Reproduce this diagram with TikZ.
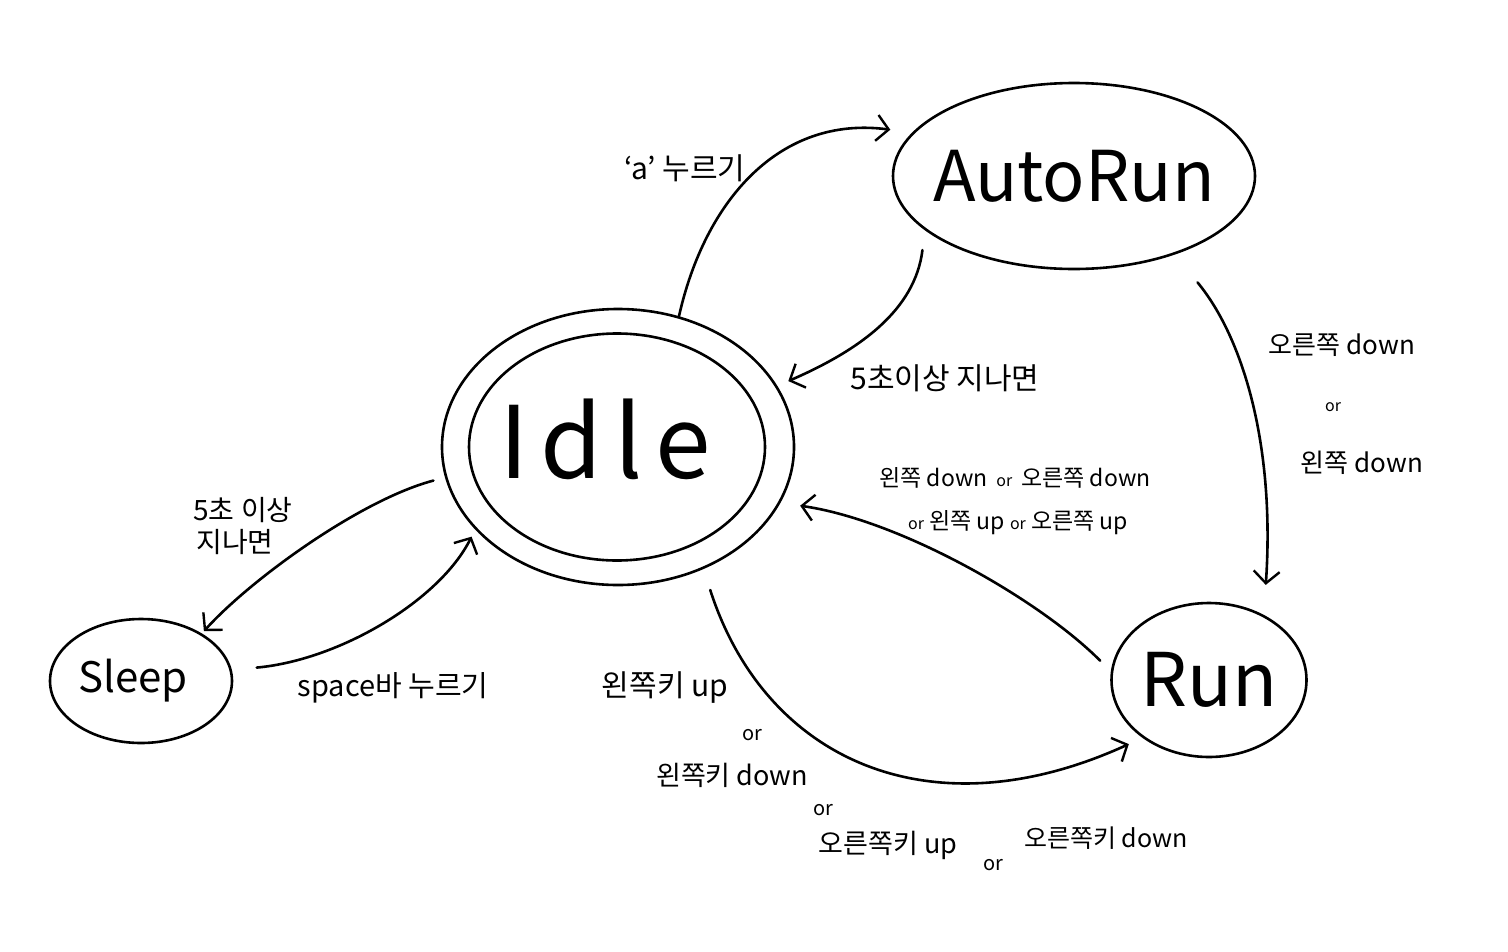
\documentclass[tikz,border=0pt]{standalone}
\usepackage{fontspec}
\setmainfont{Noto Sans CJK KR}
\usetikzlibrary{arrows.meta,shapes.geometric}
\begin{document}
\begin{tikzpicture}[x=1pt,y=-1pt,line width=2.6pt,
  st/.style={draw,ellipse,inner sep=0pt},
  edge/.style={-{Straight Barb[length=12pt,width=26pt,line width=2.4pt]},line cap=round},
  lbl/.style={inner sep=0pt,font=\fontsize{24}{28}\selectfont},
  lblor/.style={inner sep=0pt,font=\fontsize{16}{18}\selectfont}]
\useasboundingbox (0,0) rectangle (1508,951);
% states
\node[st,minimum width=362pt,minimum height=186pt,label={[font=\fontsize{70}{80}\selectfont]center:AutoRun}] (autorun) at (1074,176) {};
\node[st,minimum width=352pt,minimum height=276pt] (idle) at (618,447) {};
\node[st,minimum width=296pt,minimum height=227pt,label={[xshift=-12pt,yshift=8pt,font=\fontsize{100}{110}\selectfont\addfontfeature{LetterSpace=12}]center:Idle}] (idlein) at (617,447) {};
\node[st,minimum width=182pt,minimum height=124pt,label={[xshift=-8pt,font=\fontsize{42}{48}\selectfont]center:Sleep}] (sleep) at (141,681) {};
\node[st,minimum width=195pt,minimum height=154pt,label={[font=\fontsize{74}{84}\selectfont]center:Run}] (run) at (1209,680) {};
% connectors
\draw[edge,shorten >=22pt] (idle.65) .. controls (705,200) and (780,115) .. (autorun.165);
\draw[edge,shorten <=20pt,shorten >=12pt] (autorun.200) .. controls (915,310) and (860,350) .. (idle.21);
\draw[edge,shorten <=36pt,shorten >=30pt] (autorun.-38) .. controls (1245,340) and (1275,450) .. (run.50);
\draw[edge,shorten <=15pt,shorten >=20pt] (run.175) .. controls (1040,600) and (900,520) .. (idle.-19);
\draw[edge,shorten <=22pt,shorten >=15pt] (idle.-55) .. controls (765,760) and (930,835) .. (run.221);
\draw[edge,shorten <=12pt,shorten >=3pt] (idle.190) .. controls (360,500) and (250,580) .. (sleep.38);
\draw[edge,shorten <=25pt,shorten >=8pt] (sleep.7) .. controls (340,660) and (440,600) .. (idle.210);
% labels
\node[lbl,font=\fontsize{30}{34}\selectfont] (la) at (685,168) {‘a’ 누르기};
\node[lbl,font=\fontsize{30}{34}\selectfont] (lb) at (945,378) {5초이상 지나면};
\node[lbl,font=\fontsize{26}{30}\selectfont] (lc1) at (1342,345) {오른쪽 down};
\node[lblor] (lc2) at (1333,407) {or};
\node[lbl,font=\fontsize{26}{30}\selectfont] (lc3) at (1362,463) {왼쪽 down};
\node[lbl,font=\fontsize{23}{26}\selectfont] (ld1) at (1015,478) {왼쪽 down \,{\fontsize{16}{18}\selectfont or}\, 오른쪽 down};
\node[lbl,font=\fontsize{23}{26}\selectfont] (ld2) at (1018,523) {{\fontsize{16}{18}\selectfont or} 왼쪽 up {\fontsize{16}{18}\selectfont or} 오른쪽 up};
\node[lbl,font=\fontsize{28}{32}\selectfont] (le1) at (243,510) {5초 이상};
\node[lbl,font=\fontsize{28}{32}\selectfont] (le2) at (235,542) {지나면};
\node[lbl,font=\fontsize{29}{33}\selectfont] (lf) at (393,688) {space바 누르기};
\node[lbl,font=\fontsize{30}{34}\selectfont] (lg1) at (665,688) {왼쪽키 up};
\node[lblor,font=\fontsize{20}{24}\selectfont] (lg2) at (752,735) {or};
\node[lbl,font=\fontsize{27}{31}\selectfont] (lg3) at (732,775) {왼쪽키 down};
\node[lblor,font=\fontsize{20}{24}\selectfont] (lg4) at (823,810) {or};
\node[lbl,font=\fontsize{27}{31}\selectfont] (lg5) at (888,845) {오른쪽키 up};
\node[lblor,font=\fontsize{20}{24}\selectfont] (lg6) at (993,865) {or};
\node[lbl,font=\fontsize{25}{29}\selectfont] (lg7) at (1106,838) {오른쪽키 down};
\end{tikzpicture}
\end{document}
